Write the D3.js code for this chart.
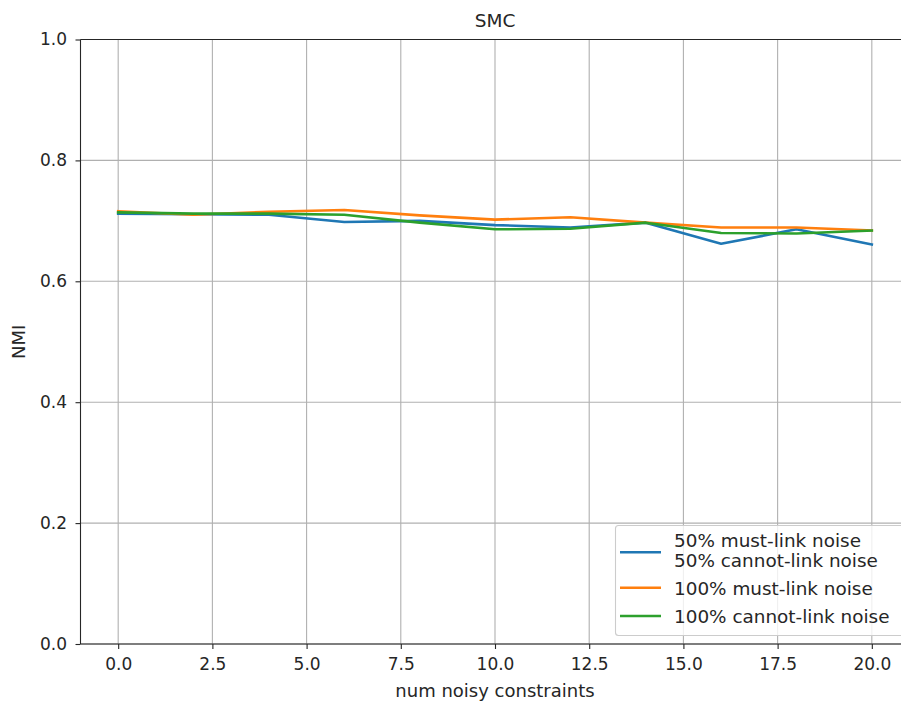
<!DOCTYPE html>
<html><head><meta charset="utf-8">
<script src="https://cdn.jsdelivr.net/npm/d3@7"></script>
<style>body{margin:0;background:#fff}svg{display:block}text{font-family:"DejaVu Sans",sans-serif;fill:#262626}</style>
</head><body><svg id="c" width="901" height="704"></svg>
<script>
const xValues = [0,2,4,6,8,10,12,14,16,18,20];
const seriesNames = ["50% must-link noise\n50% cannot-link noise","100% must-link noise","100% cannot-link noise"];
const blueValues   = [0.712,0.711,0.710,0.698,0.700,0.693,0.689,0.697,0.662,0.686,0.661];
const orangeValues = [0.716,0.710,0.715,0.718,0.709,0.702,0.706,0.697,0.689,0.689,0.684];
const greenValues  = [0.714,0.712,0.712,0.710,0.697,0.686,0.687,0.697,0.680,0.679,0.684];
const colors = ["#1f77b4","#ff7f0e","#2ca02c"];
const xTicks = [0,2.5,5,7.5,10,12.5,15,17.5,20];
const yTicks = [0,0.2,0.4,0.6,0.8,1.0];

const svg = d3.select("#c");
const L=80.5, T=39.5, B=644, R=909.5;
const x = d3.scaleLinear().domain([-1,21]).range([L,R]);
const y = d3.scaleLinear().domain([0,1]).range([B,T]);
const FS = 17;

// grid
const g = svg.append("g");
g.selectAll(".vx").data(xTicks).join("line").attr("x1",d=>x(d)).attr("x2",d=>x(d)).attr("y1",T).attr("y2",B).attr("stroke","#b0b0b0").attr("stroke-width",1.1);
g.selectAll(".hy").data(yTicks).join("line").attr("y1",d=>y(d)).attr("y2",d=>y(d)).attr("x1",L).attr("x2",R).attr("stroke","#b0b0b0").attr("stroke-width",1.1);

// lines
const all = [blueValues, orangeValues, greenValues];
const line = d3.line().x((d,i)=>x(xValues[i])).y(d=>y(d));
all.forEach((vals,k)=>{
  svg.append("path").attr("d",line(vals)).attr("fill","none").attr("stroke",colors[k]).attr("stroke-width",2.6).attr("stroke-linejoin","round").attr("stroke-linecap","square");
});

// axes
const xa = svg.append("g").attr("transform",`translate(0,${B})`).call(d3.axisBottom(x).tickValues(xTicks).tickFormat(d3.format(".1f")).tickSize(5).tickPadding(9));
const ya = svg.append("g").attr("transform",`translate(${L},0)`).call(d3.axisLeft(y).tickValues(yTicks).tickFormat(d3.format(".1f")).tickSize(5).tickPadding(8.5));
[xa,ya].forEach(a=>{
  a.select(".domain").remove();
  a.selectAll("line").attr("stroke","#262626").attr("stroke-width",1.1);
  a.selectAll("text").attr("font-size",FS).attr("font-family","DejaVu Sans").attr("fill","#262626");
});
// spines
svg.append("line").attr("x1",L).attr("x2",R).attr("y1",B).attr("y2",B).attr("stroke","#262626").attr("stroke-width",1.1);
svg.append("line").attr("x1",L).attr("x2",R).attr("y1",T).attr("y2",T).attr("stroke","#262626").attr("stroke-width",1.1);
svg.append("line").attr("x1",L).attr("x2",L).attr("y1",T).attr("y2",B).attr("stroke","#262626").attr("stroke-width",1.1);

// labels
svg.append("text").attr("x",(L+R)/2).attr("y",27).attr("text-anchor","middle").attr("font-size",18.5).text("SMC");
svg.append("text").attr("x",(L+R)/2).attr("y",697).attr("text-anchor","middle").attr("font-size",18).text("num noisy constraints");
svg.append("text").attr("transform",`translate(25,${(T+B)/2}) rotate(-90)`).attr("text-anchor","middle").attr("font-size",18).text("NMI");

// legend
const lg = svg.append("g");
lg.append("rect").attr("x",615.5).attr("y",525.5).attr("width",288).attr("height",110).attr("rx",3).attr("fill","#fff").attr("fill-opacity",0.8).attr("stroke","#cccccc").attr("stroke-width",1.1);
const LFS = 18.4;
const rows = [{ly:552.3, lines:[546.5,566.5]},{ly:587.7, lines:[595]},{ly:616, lines:[623]}];
rows.forEach((r,k)=>{
  lg.append("line").attr("x1",620).attr("x2",661).attr("y1",r.ly).attr("y2",r.ly).attr("stroke",colors[k]).attr("stroke-width",2.6);
  const parts = seriesNames[k].split("\n");
  parts.forEach((p,j)=>{
    lg.append("text").attr("x",674).attr("y",r.lines[j]).attr("font-size",LFS).text(p);
  });
});
</script></body></html>
